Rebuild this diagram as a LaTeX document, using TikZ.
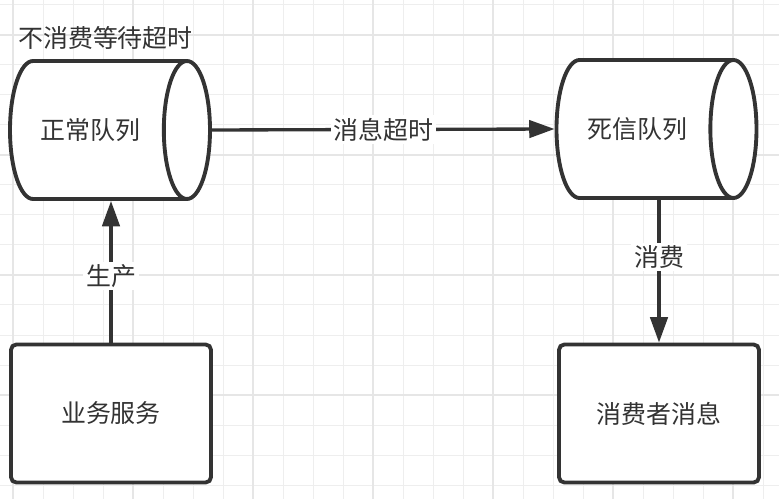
\documentclass[tikz,border=0pt]{standalone}
\usepackage{fontspec}
\setmainfont{Noto Sans CJK SC}
\usetikzlibrary{arrows.meta,shapes.geometric,positioning}
\definecolor{ink}{HTML}{333333}
\definecolor{gridminor}{HTML}{EEEEEE}
\definecolor{gridmajor}{HTML}{E6E6E6}
\tikzset{
  queue/.style={cylinder, draw=ink, line width=2.9pt, cylinder uses custom fill,
    cylinder body fill=white, cylinder end fill=white, aspect=2.0, inner sep=0pt,
    minimum height=150pt, minimum width=103.5pt, text=ink, font=\fontsize{18.7}{22}\selectfont},
  service/.style={draw=ink, fill=white, line width=2.9pt, rounded corners=4pt,
    minimum width=150pt, minimum height=103.5pt, text=ink, font=\fontsize{18.7}{22}\selectfont},
  flow/.style={draw=ink, line width=2.5pt, -{Triangle[length=19pt,width=13pt]}},
  tag/.style={fill=white, text=ink, inner sep=2pt, font=\fontsize{18.7}{22}\selectfont}
}
\begin{document}
\begin{tikzpicture}[x=0.75pt,y=-0.75pt]
\useasboundingbox (0,0) rectangle (779,499);
\fill[white] (0,0) rectangle (779,499);
% grid
\foreach \gx in {13,43,...,763}
  \draw[gridminor, line width=0.75pt] (\gx,0) -- (\gx,499);
\foreach \gy in {5,35,...,485}
  \draw[gridminor, line width=0.75pt] (0,\gy) -- (779,\gy);
\foreach \gx in {13,133,...,733}
  \draw[gridmajor, line width=1.5pt] (\gx,0) -- (\gx,499);
\foreach \gy in {35,155,...,395}
  \draw[gridmajor, line width=1.5pt] (0,\gy) -- (779,\gy);

% queues
\node[queue, anchor=shape center] (normal) at (110,130) {正常队列\hspace*{10pt}};
\node[queue, anchor=shape center] (dead) at (656.5,129) {死信队列\hspace*{10pt}};
\node[anchor=west, text=ink, inner sep=0pt, font=\fontsize{18.7}{22}\selectfont] (wait) at (18,38) {不消费等待超时};

% services
\node[service] (biz) at (111,413.5) {业务服务};
\node[service] (cons) at (659,413.5) {消费者消息};

% connectors
\draw[flow] (normal.east) -- node[tag] {消息超时} (dead.west);
\draw[flow] (biz.north) -- node[tag, pos=0.47] {生产} (biz.north |- normal.south);
\draw[flow] (cons.north |- dead.south) -- node[tag, pos=0.4] {消费} (cons.north);
\end{tikzpicture}
\end{document}
